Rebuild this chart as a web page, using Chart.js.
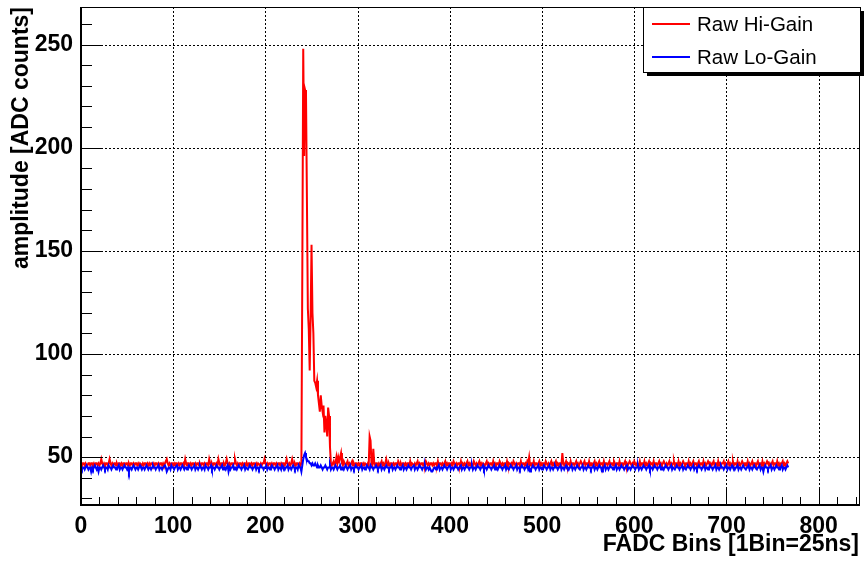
<!DOCTYPE html>
<html>
<head>
<meta charset="utf-8">
<title>Raw FADC signal</title>
<script src="https://cdn.jsdelivr.net/npm/chart.js@4.4.1/dist/chart.umd.min.js"></script>
<style>
  body { margin: 0; background: #fff; }
  canvas { display: block; }
</style>
</head>
<body>
<canvas id="myChart" width="864" height="563"></canvas>
<script>
// axis setup
var xTicks = [0, 100, 200, 300, 400, 500, 600, 700, 800];
var yTicks = [50, 100, 150, 200, 250];
var xRange = [0, 843.7];
var yRange = [26.8, 268.2];
var xTitle = 'FADC Bins [1Bin=25ns]';
var yTitle = 'amplitude [ADC counts]';

// raw samples, one value per FADC bin (0..767)
var hiGain = [
    47,46,47,47,46,47,46,46, 47,47,46,47,47,46,47,46, 47,47,46,47,46,47,49,47, 46,47,46,47,47,46,47,49,
    47,46,47,46,47,47,46,47, 46,47,47,46,47,46,47,47, 46,47,47,46,47,46,47,47, 46,47,46,47,47,46,47,46,
    47,47,46,47,46,47,47,46, 47,46,47,46,47,47,46,47, 46,47,47,46,47,46,47,47, 46,47,46,47,48,49,47,46,
    47,46,47,47,46,47,46,47, 47,46,47,46,47,47,46,47, 46,49,47,46,47,47,46,47, 46,47,47,46,47,46,47,47,
    46,47,46,47,47,46,47,46, 47,47,46,49,47,46,47,46, 47,47,46,47,46,49,47,46, 47,47,46,47,46,47,49,47,
    46,47,46,47,47,46,47,49, 47,46,47,46,47,47,46,47, 46,47,47,46,47,46,47,47, 46,47,46,47,47,46,47,46,
    47,47,46,47,46,47,47,49, 47,46,47,46,47,47,46,47, 46,47,47,46,47,46,47,47, 46,47,46,47,47,46,47,49,
    47,46,47,46,47,49,47,46, 47,46,47,47,46,47,46,47, 140,248,196,228,226,175,122,112, 92,118,153,120,110,87,86,84,
    87,80,76,72,80,75,72,75, 62,70,66,60,74,70,55,47, 46,47,48,46,47,50,47,50, 48,50,52,47,46,48,47,46,
    47,48,46,47,46,47,48,46, 47,46,47,47,46,47,46,47, 47,46,47,46,47,47,46,47, 46,60,58,47,46,54,47,46,
    47,47,46,47,46,47,48,46, 47,46,47,49,47,46,47,46, 47,47,46,47,46,47,47,46, 48,47,46,47,46,47,47,46,
    47,46,47,47,46,48,46,47, 47,46,47,46,47,48,46,47, 46,47,47,46,47,46,48,47, 46,47,46,47,47,46,47,46,
    47,47,46,48,46,47,47,46, 47,46,47,48,46,47,46,47, 47,46,47,46,48,47,46,47, 46,47,47,46,48,46,47,46,
    47,46,47,48,46,47,46,47, 47,46,48,47,46,47,46,47, 48,46,47,46,47,47,46,47, 48,46,47,46,47,47,46,48,
    46,47,46,47,47,46,48,47, 46,47,46,47,47,46,48,46, 47,47,46,47,46,48,47,46, 47,46,47,47,46,48,46,47,
    47,46,47,46,48,47,50,46, 47,47,46,48,46,47,47,46, 47,48,46,47,46,47,47,46, 48,47,46,47,46,47,48,46,
    47,46,47,48,46,47,46,47, 47,46,52,47,46,47,48,46, 47,47,46,48,46,47,47,46, 47,48,46,47,46,47,48,47,
    46,47,48,46,47,47,46,48, 46,47,47,46,47,48,46,47, 46,47,48,46,47,47,46,48, 46,47,47,46,47,48,46,47,
    47,46,48,47,46,47,47,46, 48,46,47,47,46,47,48,46, 47,46,47,48,47,46,47,46, 48,47,46,47,47,46,48,46,
    47,47,46,48,46,47,46,47, 48,46,47,47,46,48,46,47, 47,46,47,48,46,47,46,47, 48,47,46,47,46,47,48,46,
    47,46,47,48,46,47,47,46, 48,46,47,46,47,48,47,46, 47,47,46,48,46,47,46,47, 48,46,47,47,46,47,48,46,
    47,47,46,48,46,47,46,47, 48,47,46,47,46,47,48,46, 47,47,46,48,46,47,46,47, 47,48,46,47,46,47,48,46,
    47,46,47,48,46,47,47,46, 48,46,47,46,47,48,47,46, 47,47,46,48,46,47,46,47, 48,46,47,47,46,47,48,46,
    47,47,46,48,46,47,46,47, 48,47,46,47,46,47,48,46, 47,47,46,48,46,47,46,47, 47,48,46,47,46,47,48,47
];
var loGain = [
    45,44,45,45,44,45,46,45, 44,45,45,43,45,44,45,46, 45,44,45,43,45,45,44,45, 46,45,44,45,45,44,46,45,
    45,44,45,46,45,45,44,45, 45,46,44,45,45,44,45,46, 45,45,44,45,43,45,45,44, 45,46,45,44,45,45,44,45,
    46,45,44,45,45,44,45,46, 45,44,45,45,44,45,46,45, 45,44,45,45,46,44,45,45, 44,45,45,46,45,43,44,45,
    45,44,46,45,45,44,45,45, 46,44,45,45,44,45,46,45, 44,45,45,44,45,46,45,45, 44,45,45,46,44,45,45,44,
    45,46,45,44,45,45,44,46, 45,45,44,45,45,46,44,45, 45,44,45,46,45,45,44,45, 45,46,44,45,45,44,45,46,
    43,45,44,45,45,46,44,45, 45,44,45,46,45,45,44,45, 45,46,44,45,45,44,45,46, 45,45,44,45,45,46,44,45,
    45,44,45,46,45,45,44,45, 45,46,44,45,45,44,45,46, 45,45,44,45,45,46,44,45, 45,44,46,45,45,44,45,45,
    46,44,45,45,44,45,46,45, 44,45,45,44,46,45,45,43, 46,49,51,52,50,49,48,48, 47,47,46,47,46,46,47,46,
    45,46,45,45,46,45,44,45, 45,46,45,44,45,45,46,44, 45,45,44,45,46,45,44,45, 45,46,44,45,45,44,45,46,
    45,44,45,45,46,44,45,45, 44,45,46,45,45,44,45,45, 46,44,45,45,44,45,46,45, 45,44,46,45,45,44,45,45,
    46,45,44,45,45,46,44,45, 45,44,45,46,45,45,44,45, 45,46,44,45,45,44,45,46, 45,45,44,45,45,46,44,45,
    45,44,45,46,45,45,44,45, 45,46,44,45,45,44,45,46, 45,45,44,45,45,46,44,45, 45,44,45,44,43,43,44,45,
    45,44,45,45,46,44,45,45, 44,45,46,45,45,44,45,45, 46,44,45,45,44,45,46,45, 45,44,45,45,46,44,45,45,
    44,45,46,45,45,44,45,45, 46,44,45,45,44,45,46,45, 45,44,45,45,46,44,45,45, 44,45,46,45,45,44,45,45,
    46,44,45,45,44,45,46,45, 45,44,45,45,46,44,45,45, 44,45,46,45,45,44,45,45, 46,44,45,45,44,45,46,45,
    45,44,45,45,46,44,45,43, 44,45,46,45,45,44,45,45, 46,44,45,45,44,45,46,45, 45,44,45,45,46,44,45,45,
    44,45,46,45,45,44,45,45, 46,44,45,45,44,45,46,45, 45,44,45,45,46,44,45,45, 44,45,46,45,45,44,45,45,
    46,44,45,45,44,45,46,45, 45,44,45,45,46,44,45,45, 44,45,46,45,45,43,45,45, 46,44,45,45,44,45,46,45,
    45,44,45,45,46,44,45,45, 44,45,46,45,45,44,45,45, 46,44,45,45,44,45,46,45, 45,44,45,45,46,44,45,45,
    44,45,46,45,45,44,45,45, 46,44,45,45,44,45,46,45, 45,44,45,45,46,44,45,45, 44,45,46,45,45,44,45,45,
    46,44,45,45,44,45,46,45, 45,44,45,45,46,44,45,45, 44,45,46,45,45,44,45,45, 46,44,45,45,44,45,46,45,
    45,44,45,45,46,44,45,45, 44,45,46,45,45,44,45,45, 46,44,45,45,44,45,46,45, 45,44,45,45,46,44,45,45,
    44,45,46,45,45,44,45,45, 46,44,45,45,44,45,46,45, 45,44,45,45,46,44,45,45, 44,45,46,45,45,44,45,45,
    46,44,45,45,43,45,46,45, 45,44,45,45,46,44,45,45, 44,45,46,45,45,44,45,45, 46,44,45,45,44,45,46,45
];

var toPoints = arr => arr.map((v, i) => ({ x: i, y: v }));
var fontFamily = '"Liberation Sans", Arial, sans-serif';

// ROOT-like frame: dotted grid, inner ticks, legend box with shadow
var rootFrame = {
    id: 'rootFrame',
    beforeDatasetsDraw(chart) {
        let { ctx, chartArea: a, scales: { x, y } } = chart;
        ctx.save();
        ctx.strokeStyle = '#000';
        ctx.lineWidth = 1;
        ctx.setLineDash([2, 2]);
        ctx.beginPath();
        xTicks.forEach(v => {
            if (v === xRange[0]) return;
            let px = Math.round(x.getPixelForValue(v)) + 0.5;
            ctx.moveTo(px, a.top); ctx.lineTo(px, a.bottom);
        });
        yTicks.forEach(v => {
            let py = Math.round(y.getPixelForValue(v)) + 0.5;
            ctx.moveTo(a.left, py); ctx.lineTo(a.right, py);
        });
        ctx.stroke();
        ctx.restore();
    },
    afterDatasetsDraw(chart) {
        let { ctx, chartArea: a, scales: { x, y } } = chart;
        ctx.save();
        ctx.strokeStyle = '#000';
        // ticks (inside the frame)
        ctx.lineWidth = 1;
        ctx.beginPath();
        for (let v = 0; v <= xRange[1]; v += 20) {
            let px = Math.round(x.getPixelForValue(v)) + 0.5;
            let len = v % 100 === 0 ? 16 : 8;
            ctx.moveTo(px, a.bottom); ctx.lineTo(px, a.bottom - len);
        }
        for (let v = 30; v <= yRange[1]; v += 10) {
            let py = Math.round(y.getPixelForValue(v)) + 0.5;
            let len = v % 50 === 0 ? 21 : 11;
            ctx.moveTo(a.left, py); ctx.lineTo(a.left + len, py);
        }
        ctx.stroke();
        // frame
        ctx.strokeRect(Math.round(a.left) + 0.5, Math.round(a.top) + 0.5,
            Math.round(a.right - a.left), Math.round(a.bottom - a.top));
        ctx.lineWidth = 2;
        ctx.beginPath();
        ctx.moveTo(Math.round(a.left), a.top);
        ctx.lineTo(Math.round(a.left), Math.round(a.bottom));
        ctx.lineTo(a.right, Math.round(a.bottom));
        ctx.stroke();

        // legend
        let lx = 643, ly = Math.round(a.top), lw = 217, lh = 65;
        ctx.fillStyle = '#000';
        ctx.fillRect(lx + 4, ly + 4, lw, lh);
        ctx.fillStyle = '#fff';
        ctx.fillRect(lx, ly, lw, lh);
        ctx.lineWidth = 1;
        ctx.strokeRect(lx + 0.5, ly + 0.5, lw, lh);
        ctx.font = '20.5px ' + fontFamily;
        ctx.textBaseline = 'middle';
        chart.data.datasets.forEach((ds, i) => {
            let cy = ly + 17 + i * 33;
            ctx.strokeStyle = ds.borderColor;
            ctx.lineWidth = 2;
            ctx.beginPath();
            ctx.moveTo(652, cy); ctx.lineTo(690, cy);
            ctx.stroke();
            ctx.fillStyle = '#000';
            ctx.fillText(ds.label, 697, cy + 1);
        });
        ctx.restore();
    }
};

var ctx = document.getElementById('myChart').getContext('2d');
var myChart = new Chart(ctx, {
    type: 'line',
    data: {
        datasets: [{
            label: 'Raw Hi-Gain',
            data: toPoints(hiGain),
            borderColor: '#ff0000',
            borderWidth: 2,
            order: 1
        }, {
            label: 'Raw Lo-Gain',
            data: toPoints(loGain),
            borderColor: '#0000ff',
            borderWidth: 2,
            order: 0
        }]
    },
    options: {
        responsive: false,
        animation: false,
        devicePixelRatio: 1,
        layout: { padding: { top: 7, right: 5, left: 0, bottom: 0 } },
        elements: { point: { radius: 0 }, line: { tension: 0 } },
        plugins: { legend: { display: false }, tooltip: { enabled: false } },
        scales: {
            x: {
                type: 'linear',
                min: xRange[0],
                max: xRange[1],
                afterBuildTicks: s => { s.ticks = xTicks.map(v => ({ value: v })); },
                afterFit: s => { s.height = 58; s.paddingLeft = 0; s.paddingRight = 0; },
                grid: { display: false, drawTicks: false },
                border: { display: false },
                ticks: {
                    color: '#000',
                    padding: 8,
                    maxRotation: 0,
                    font: { family: fontFamily, size: 23, weight: 'bold' }
                },
                title: {
                    display: true,
                    text: xTitle,
                    align: 'end',
                    color: '#000',
                    padding: { top: 0, bottom: 5 },
                    font: { family: fontFamily, size: 23, weight: 'bold' }
                }
            },
            y: {
                min: yRange[0],
                max: yRange[1],
                afterBuildTicks: s => { s.ticks = yTicks.map(v => ({ value: v })); },
                afterFit: s => { s.width = 81; s.paddingTop = 0; s.paddingBottom = 0; },
                grid: { display: false, drawTicks: false },
                border: { display: false },
                ticks: {
                    color: '#000',
                    padding: 8,
                    font: { family: fontFamily, size: 23, weight: 'bold' }
                },
                title: {
                    display: true,
                    text: yTitle,
                    align: 'end',
                    color: '#000',
                    padding: { top: 8, bottom: 0 },
                    font: { family: fontFamily, size: 23, weight: 'bold' }
                }
            }
        }
    },
    plugins: [rootFrame]
});
</script>
</body>
</html>
